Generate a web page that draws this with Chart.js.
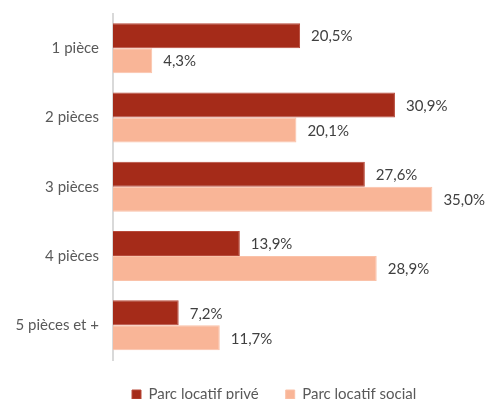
<!DOCTYPE html>
<html>
<head>
<meta charset="utf-8">
<script src="https://cdn.jsdelivr.net/npm/chart.js@4/dist/chart.umd.min.js"></script>
<style>
    html, body { margin: 0; padding: 0; background: #ffffff; }
    #wrap { width: 485px; height: 399px; }
</style>
</head>
<body>
<div id="wrap"><canvas id="chart"></canvas></div>
<script>
const categories = ['1 pièce', '2 pièces', '3 pièces', '4 pièces', '5 pièces et +'];
const seriesNames = ['Parc locatif privé', 'Parc locatif social'];
const privateValues = [20.5, 30.9, 27.6, 13.9, 7.2];
const socialValues = [4.3, 20.1, 35.0, 28.9, 11.7];
const seriesColors = ['#a52b19', '#f9b597'];

function format_pct(v) {
    return v.toFixed(1).replace('.', ',') + '%';
}

// Draw the value next to each bar end
const valueLabels = {
    id: 'valueLabels',
    afterDatasetsDraw(chart) {
        const ctx = chart.ctx;
        ctx.save();
        ctx.font = '15px Lato';
        ctx.fillStyle = '#404040';
        ctx.textAlign = 'left';
        ctx.textBaseline = 'middle';
        chart.data.datasets.forEach((ds, i) => {
            chart.getDatasetMeta(i).data.forEach((bar, j) => {
                ctx.fillText(format_pct(ds.data[j]), bar.x + 11, bar.y + 1);
            });
        });
        ctx.restore();
    }
};

// Move the legend row a bit to the left, like in the original
const legendNudge = {
    id: 'legendNudge',
    afterLayout(chart) {
        chart.legend.left -= 8;
    }
};

const ctx = document.getElementById('chart').getContext('2d');
new Chart(ctx, {
    type: 'bar',
    data: {
        labels: categories,
        datasets: [
            {
                label: seriesNames[0],
                data: privateValues,
                backgroundColor: seriesColors[0],
                borderColor: '#b84a3a',
                borderWidth: 1,
                barPercentage: 1,
                categoryPercentage: 0.7215
            },
            {
                label: seriesNames[1],
                data: socialValues,
                backgroundColor: seriesColors[1],
                borderColor: '#fac2a9',
                borderWidth: 1,
                barPercentage: 1,
                categoryPercentage: 0.7215
            }
        ]
    },
    options: {
        indexAxis: 'y',
        responsive: true,
        maintainAspectRatio: false,
        animation: false,
        layout: {
            padding: { top: 13.5, right: 7, left: 0, bottom: -13 }
        },
        plugins: {
            legend: {
                position: 'bottom',
                fullSize: false,
                align: 'start',
                labels: {
                    font: { family: 'Lato', size: 15 },
                    color: '#595959',
                    boxWidth: 9,
                    boxHeight: 9,
                    padding: 27
                }
            },
            tooltip: { enabled: false }
        },
        scales: {
            x: {
                display: false,
                min: 0,
                max: 40
            },
            y: {
                afterFit: scale => {
                    scale.width = 113;
                    scale.paddingTop = 0;
                    scale.paddingBottom = 0;
                },
                grid: { display: false, drawTicks: false },
                border: { display: true, color: '#d9d9d9', width: 2 },
                ticks: {
                    font: { family: 'Lato', size: 15 },
                    color: '#595959',
                    padding: 14
                }
            }
        }
    },
    plugins: [valueLabels, legendNudge]
});
</script>
</body>
</html>
